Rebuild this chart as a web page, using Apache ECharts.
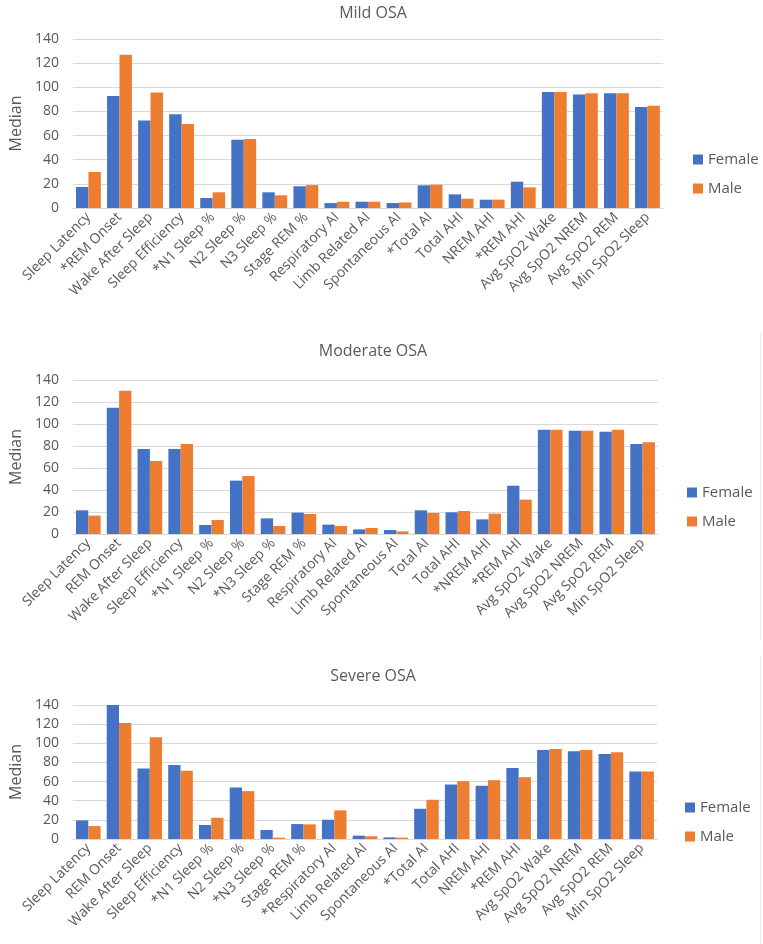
<!DOCTYPE html>
<html>
<head>
<meta charset="utf-8">
<script src="https://cdn.jsdelivr.net/npm/echarts@6/dist/echarts.min.js"></script>
<style>
html,body{margin:0;padding:0;background:#fff;}
#c{width:763px;height:944px;}
</style>
</head>
<body>
<div id="c"></div>
<script>
const seriesNames = ['Female', 'Male'];
const yTicks = [0, 20, 40, 60, 80, 100, 120, 140];

const mildCats = ['Sleep Latency','*REM Onset','Wake After Sleep','Sleep Efficiency','*N1 Sleep %','N2 Sleep %','N3 Sleep %','Stage REM %','Respiratory AI','Limb Related AI','Spontaneous AI','*Total AI','Total AHI','NREM AHI','*REM AHI','Avg SpO2 Wake','Avg SpO2 NREM','Avg SpO2 REM','Min SpO2 Sleep'];
const mildFemale = [17.4, 92.8, 72.4, 77.6, 8.3, 56.6, 13, 18, 4.1, 5.2, 4.1, 18.8, 11.3, 6.9, 21.8, 96, 94, 95, 83.7];
const mildMale   = [29.8, 127, 95.6, 69.6, 13, 57.2, 10.5, 19, 5.2, 5.2, 4.6, 19.3, 7.7, 6.9, 17.1, 96, 95, 95, 84.8];

const modCats = ['Sleep Latency','REM Onset','Wake After Sleep','Sleep Efficiency','*N1 Sleep %','N2 Sleep %','*N3 Sleep %','Stage REM %','Respiratory AI','Limb Related AI','Spontaneous AI','Total AI','Total AHI','*NREM AHI','*REM AHI','Avg SpO2 Wake','Avg SpO2 NREM','Avg SpO2 REM','Min SpO2 Sleep'];
const modFemale = [21.5, 114.8, 77.3, 77.3, 8.2, 48.5, 14.2, 19.4, 8.5, 4.2, 3.6, 21.5, 19.7, 13.3, 43.9, 94.8, 93.9, 93, 81.8];
const modMale   = [16.7, 130.3, 66.4, 81.8, 12.7, 52.7, 7.3, 18.2, 7.3, 5.5, 2.4, 19.1, 20.9, 18.5, 31.2, 94.8, 93.9, 94.8, 83.3];

const sevCats = ['Sleep Latency','REM Onset','Wake After Sleep','Sleep Efficiency','*N1 Sleep %','N2 Sleep %','*N3 Sleep %','Stage REM %','*Respiratory AI','Limb Related AI','Spontaneous AI','*Total AI','Total AHI','NREM AHI','*REM AHI','Avg SpO2 Wake','Avg SpO2 NREM','Avg SpO2 REM','Min SpO2 Sleep'];
const sevFemale = [19.4, 140, 73.6, 77.4, 14.6, 53.8, 9.4, 15.6, 20.1, 3.5, 1.7, 31.6, 56.9, 55.6, 74.3, 93.1, 91.7, 88.9, 70.5];
const sevMale   = [13.5, 121.2, 106.3, 71.2, 22.2, 50, 1.4, 15.3, 29.9, 2.8, 1.4, 41, 60.4, 61.5, 64.6, 94.1, 93.1, 90.6, 70.5];

const titles = ['Mild OSA', 'Moderate OSA', 'Severe OSA'];
const panels = [
  {cats: mildCats, f: mildFemale, m: mildMale},
  {cats: modCats, f: modFemale, m: modMale},
  {cats: sevCats, f: sevFemale, m: sevMale}
];

const FONT = '"Open Sans", "Noto Sans", sans-serif';
const TXT = '#595959';
const GRID = '#d9d9d9';
const colors = ['#4472C4', '#ED7D31'];

const layout = [
  {grid: {left: 63, right: 100, top: 39, height: 169}, titleTop: 0, legendLeft: 688, legendTop: 147},
  {grid: {left: 63, right: 105, top: 380, height: 154}, titleTop: 338, legendLeft: 682, legendTop: 480},
  {grid: {left: 63, right: 106, top: 705, height: 134}, titleTop: 663, legendLeft: 680, legendTop: 795}
];

const option = {
  animation: false,
  backgroundColor: '#fff',
  color: colors,
  textStyle: {fontFamily: FONT},
  title: layout.map((l, i) => ({
    text: titles[i], left: 368, top: l.titleTop, textAlign: 'center',
    textStyle: {fontFamily: FONT, fontSize: 16, fontWeight: 'normal', color: TXT}
  })),
  legend: layout.map(l => ({
    data: seriesNames, orient: 'vertical', left: l.legendLeft, top: l.legendTop,
    icon: 'rect', itemWidth: 10, itemHeight: 10, itemGap: 14,
    textStyle: {fontFamily: FONT, fontSize: 15, color: TXT}
  })),
  grid: layout.map(l => l.grid),
  xAxis: panels.map((p, i) => ({
    type: 'category', gridIndex: i, data: p.cats,
    axisTick: {show: false},
    axisLine: {lineStyle: {color: GRID, width: 1}},
    axisLabel: {interval: 0, rotate: 45, fontFamily: FONT, fontSize: 14, color: TXT, margin: 7}
  })),
  yAxis: panels.map((p, i) => ({
    type: 'value', gridIndex: i, min: yTicks[0], max: yTicks[yTicks.length - 1], interval: yTicks[1] - yTicks[0],
    name: 'Median', nameLocation: 'middle', nameGap: 44, nameRotate: 90,
    nameTextStyle: {fontFamily: FONT, fontSize: 16, color: TXT},
    axisLine: {show: false}, axisTick: {show: false},
    axisLabel: {fontFamily: FONT, fontSize: 14, color: TXT, margin: 14},
    splitLine: {lineStyle: {color: GRID, width: 1}}
  })),
  series: []
};
panels.forEach((p, i) => {
  [p.f, p.m].forEach((d, j) => {
    option.series.push({
      type: 'bar', name: seriesNames[j], xAxisIndex: i, yAxisIndex: i, data: d,
      barGap: '0%', barCategoryGap: '20%',
      itemStyle: {color: colors[j]}
    });
  });
});
option.graphic = [
  {type: 'line', shape: {x1: 760.5, y1: 334, x2: 760.5, y2: 640}, style: {stroke: '#ececec', lineWidth: 1}},
  {type: 'line', shape: {x1: 760.5, y1: 655, x2: 760.5, y2: 944}, style: {stroke: '#ececec', lineWidth: 1}}
];

const chart = echarts.init(document.getElementById('c'), null, {renderer: 'canvas'});
chart.setOption(option);
</script>
</body>
</html>
